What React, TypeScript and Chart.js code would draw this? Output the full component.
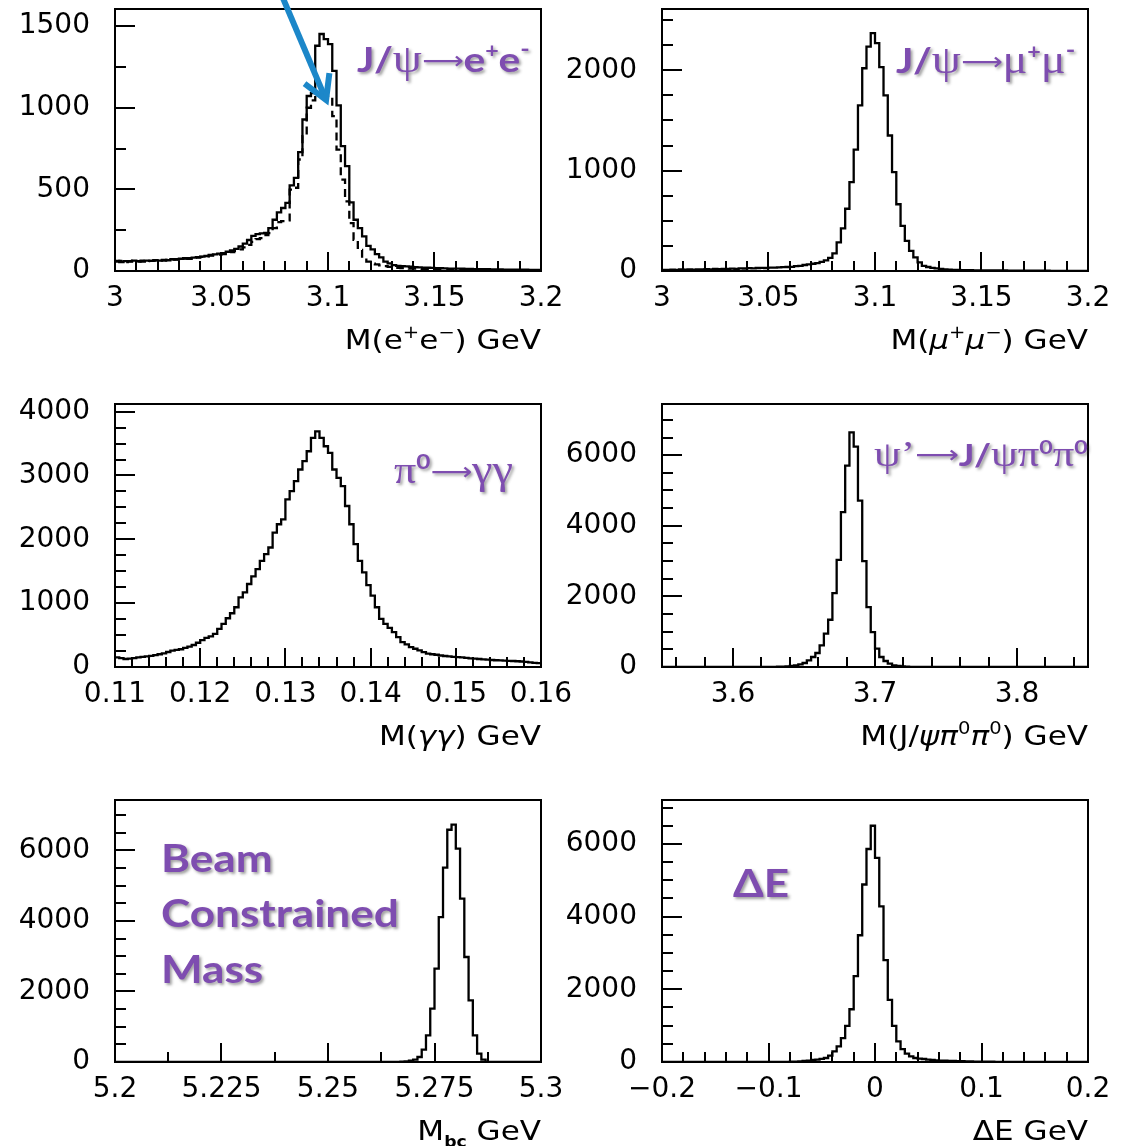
import React, { useEffect, useRef } from 'react';
import { Chart, registerables } from 'chart.js';

Chart.register(...registerables);

// ================= DATA =================
// Panel 1: J/psi -> e+e-  (solid: full, dashed: second histogram), 100 bins 3.0 - 3.2 GeV
const EE_X_MIN = 3.0;
const EE_X_MAX = 3.2;
const EE_SOLID = [
  62, 55, 60, 58, 64, 60, 57, 63, 62, 66,
  64, 68, 66, 72, 70, 75, 78, 74, 82, 85,
  88, 92, 98, 102, 106, 110, 118, 126, 136, 150,
  168, 190, 215, 226, 230, 234, 263, 314, 359, 386,
  417, 525, 570, 728, 928, 1072, 1090, 1380, 1452, 1421,
  1390, 1226, 1015, 765, 642, 420, 314, 263, 212, 154,
  133, 103, 84, 57, 47, 36, 32, 30, 28, 26,
  24, 22, 21, 20, 19, 18, 17, 16, 15, 15,
  14, 14, 13, 13, 12, 12, 11, 11, 10, 10,
  10, 9, 9, 9, 8, 8, 8, 7, 7, 6,
];
const EE_DASHED = [
  58, 62, 55, 60, 62, 58, 64, 60, 62, 64,
  66, 64, 68, 70, 72, 70, 76, 78, 80, 82,
  86, 90, 94, 98, 100, 104, 110, 116, 124, 132,
  145, 160, 178, 195, 201, 220, 232, 263, 300, 305,
  310, 498, 510, 683, 826, 1000, 1045, 1065, 1070, 1068,
  1062, 949, 744, 560, 426, 293, 191, 129, 78, 57,
  45, 40, 35, 30, 25, 22, 20, 18, 16, 15,
  14, 13, 12, 12, 11, 10, 10, 9, 9, 8,
  8, 8, 7, 7, 7, 6, 6, 6, 5, 5,
  5, 5, 4, 4, 4, 4, 3, 3, 3, 3,
];
const EE_X_TICKS = [3, 3.05, 3.1, 3.15, 3.2];
const EE_X_LABELS = ['3', '3.05', '3.1', '3.15', '3.2'];
const EE_Y_MAX = 1605;
const EE_Y_TICKS = [0, 500, 1000, 1500];
const EE_Y_LABELS = ['0', '500', '1000', '1500'];

// Panel 2: J/psi -> mu+mu-, 100 bins 3.0 - 3.2 GeV
const MM_X_MIN = 3.0;
const MM_X_MAX = 3.2;
const MM_COUNTS = [
  12, 10, 14, 12, 15, 13, 16, 14, 17, 15,
  18, 16, 20, 18, 22, 20, 24, 22, 26, 25,
  28, 26, 30, 32, 30, 34, 33, 36, 38, 40,
  42, 48, 52, 60, 66, 72, 78, 90, 105, 130,
  175, 285, 425, 620, 885, 1210, 1650, 2020, 2235, 2370,
  2270, 2030, 1750, 1350, 985, 665, 450, 300, 200, 135,
  85, 52, 40, 32, 26, 20, 16, 13, 11, 10,
  9, 8, 8, 7, 7, 6, 6, 5, 5, 5,
  5, 4, 4, 4, 4, 3, 3, 3, 3, 3,
  3, 2, 2, 2, 2, 2, 2, 2, 1, 1,
];
const MM_X_TICKS = [3, 3.05, 3.1, 3.15, 3.2];
const MM_X_LABELS = ['3', '3.05', '3.1', '3.15', '3.2'];
const MM_Y_MAX = 2610;
const MM_Y_TICKS = [0, 1000, 2000];
const MM_Y_LABELS = ['0', '1000', '2000'];

// Panel 3: pi0 -> gamma gamma, 100 bins 0.11 - 0.16 GeV
const PI0_X_MIN = 0.11;
const PI0_X_MAX = 0.16;
const PI0_COUNTS = [
  150, 138, 125, 130, 140, 152, 160, 168, 175, 185,
  200, 212, 235, 258, 268, 278, 300, 320, 345, 380,
  420, 455, 480, 520, 598, 676, 764, 842, 936, 1092,
  1170, 1300, 1420, 1534, 1664, 1768, 1872, 2106, 2236, 2314,
  2626, 2756, 2912, 3094, 3224, 3380, 3588, 3692, 3588, 3458,
  3354, 3094, 2964, 2834, 2522, 2236, 1924, 1664, 1482, 1284,
  1118, 936, 754, 676, 614, 546, 468, 390, 354, 312,
  286, 260, 234, 208, 200, 192, 180, 172, 165, 160,
  156, 150, 142, 136, 130, 125, 120, 114, 110, 106,
  104, 100, 96, 94, 90, 86, 80, 72, 66, 62,
];
const PI0_X_TICKS = [0.11, 0.12, 0.13, 0.14, 0.15, 0.16];
const PI0_X_LABELS = ['0.11', '0.12', '0.13', '0.14', '0.15', '0.16'];
const PI0_Y_MAX = 4120;
const PI0_Y_TICKS = [0, 1000, 2000, 3000, 4000];
const PI0_Y_LABELS = ['0', '1000', '2000', '3000', '4000'];

// Panel 4: psi' -> J/psi pi0 pi0, 100 bins 3.55 - 3.85 GeV
const PSI_X_MIN = 3.55;
const PSI_X_MAX = 3.85;
const PSI_COUNTS = [
  0, 0, 0, 0, 0, 0, 0, 0, 0, 0,
  0, 0, 0, 0, 0, 1, 1, 1, 1, 2,
  2, 2, 3, 3, 4, 5, 6, 8, 10, 20,
  30, 45, 75, 113, 189, 283, 396, 613, 943, 1339,
  2094, 3036, 4385, 5705, 6648, 6243, 4715, 2999, 1697, 990,
  519, 283, 170, 94, 47, 30, 19, 10, 6, 4,
  3, 2, 2, 1, 1, 1, 0, 0, 0, 0,
  0, 0, 0, 0, 0, 0, 0, 0, 0, 0,
  0, 0, 0, 0, 0, 0, 0, 0, 0, 0,
  0, 0, 0, 0, 0, 0, 0, 0, 0, 0,
];
const PSI_X_TICKS = [3.6, 3.7, 3.8];
const PSI_X_LABELS = ['3.6', '3.7', '3.8'];
const PSI_Y_MAX = 7450;
const PSI_Y_TICKS = [0, 2000, 4000, 6000];
const PSI_Y_LABELS = ['0', '2000', '4000', '6000'];

// Panel 5: beam constrained mass, 100 bins 5.2 - 5.3 GeV
const MBC_X_MIN = 5.2;
const MBC_X_MAX = 5.3;
const MBC_COUNTS = [
  0, 0, 0, 0, 0, 0, 0, 0, 0, 0,
  0, 0, 0, 0, 0, 0, 0, 0, 0, 0,
  0, 0, 0, 0, 0, 0, 0, 0, 0, 0,
  0, 0, 0, 0, 0, 0, 0, 0, 0, 0,
  0, 0, 0, 0, 0, 0, 0, 0, 0, 0,
  0, 0, 0, 0, 0, 0, 0, 0, 0, 0,
  0, 0, 0, 0, 0, 1, 3, 8, 20, 35,
  66, 142, 350, 756, 1512, 2646, 4111, 5510, 6587, 6729,
  6049, 4631, 2977, 1748, 756, 236, 66, 0, 0, 0,
  0, 0, 0, 0, 0, 0, 0, 0, 0, 0,
];
const MBC_X_TICKS = [5.2, 5.225, 5.25, 5.275, 5.3];
const MBC_X_LABELS = ['5.2', '5.225', '5.25', '5.275', '5.3'];
const MBC_Y_MAX = 7430;
const MBC_Y_TICKS = [0, 2000, 4000, 6000];
const MBC_Y_LABELS = ['0', '2000', '4000', '6000'];

// Panel 6: Delta E, 100 bins -0.2 - 0.2 GeV
const DE_X_MIN = -0.2;
const DE_X_MAX = 0.2;
const DE_COUNTS = [
  0, 0, 0, 0, 0, 0, 0, 0, 0, 0,
  0, 0, 0, 0, 0, 0, 0, 0, 0, 0,
  0, 0, 0, 0, 0, 1, 1, 2, 3, 5,
  8, 12, 18, 28, 40, 55, 64, 85, 110, 173,
  292, 429, 657, 995, 1452, 2365, 3488, 4885, 5862, 6501,
  5615, 4282, 2803, 1707, 995, 566, 356, 228, 155, 110,
  95, 82, 68, 55, 46, 40, 35, 30, 27, 24,
  20, 18, 15, 12, 10, 9, 8, 7, 6, 5,
  5, 4, 4, 3, 3, 3, 2, 2, 2, 2,
  1, 1, 1, 1, 1, 1, 0, 0, 0, 0,
];
const DE_X_TICKS = [-0.2, -0.1, 0, 0.1, 0.2];
const DE_X_LABELS = ['\u22120.2', '\u22120.1', '0', '0.1', '0.2'];
const DE_Y_MAX = 7210;
const DE_Y_TICKS = [0, 2000, 4000, 6000];
const DE_Y_LABELS = ['0', '2000', '4000', '6000'];

// ================= STYLE / LAYOUT =================
const PAD_T = 48;
const PAD_R = 58;
const AX_H = 100;
const MAJOR_LEN = 19;
const MINOR_LEN = 10;
const TITLE_DY = 78;
const TITLE_SX = 1.15;
const NOTE_SX = 1.16;
const PURPLE = '#7E4DB0';
const HIST_WIDTH = 2.3;
const TICK_FONT = { family: 'DejaVu Sans', size: 28, weight: 'normal' as const };

const N = (s: number) => `${s}px "DejaVu Sans", sans-serif`;
const NI = (s: number) => `italic ${s}px "DejaVu Sans", sans-serif`;
const NB = (s: number) => `bold ${s}px "DejaVu Sans", sans-serif`;
const BOLD = (s: number) => `bold ${s}px Lato, "Open Sans", sans-serif`;
const SERIF = (s: number) => `${s}px "Liberation Serif", "DejaVu Serif", serif`;
const ARW = (s: number) => `${s}px "DejaVu Sans", sans-serif`;

type Seg = { t: string; font: string; rise?: number };
type Note = { dx: number; dy: number; segs: Seg[]; sx?: number };

interface PanelSpec {
  id: string;
  plot: { left: number; top: number; width: number; height: number };
  axisW: number;
  xMin: number;
  xMax: number;
  xTicks: number[];
  xLabels: string[];
  xMinor: number;
  yMax: number;
  yTicks: number[];
  yLabels: string[];
  yMinor: number;
  series: { counts: number[]; dash?: number[] }[];
  title: Seg[];
  notes: Note[];
  arrow?: { from: [number, number]; to: [number, number] };
}

const TS = 27; // title font size
const SS = 17; // superscript size

const PANELS: PanelSpec[] = [
  {
    id: 'ee',
    plot: { left: 115, top: 9, width: 426, height: 262 },
    axisW: 115,
    xMin: EE_X_MIN, xMax: EE_X_MAX, xTicks: EE_X_TICKS, xLabels: EE_X_LABELS, xMinor: 0.01,
    yMax: EE_Y_MAX, yTicks: EE_Y_TICKS, yLabels: EE_Y_LABELS, yMinor: 250,
    series: [{ counts: EE_SOLID }, { counts: EE_DASHED, dash: [8, 5] }],
    title: [
      { t: 'M(', font: N(TS) }, { t: 'e', font: N(TS) }, { t: '+', font: N(SS), rise: 11 },
      { t: 'e', font: N(TS) }, { t: '\u2212', font: N(SS), rise: 11 }, { t: ') GeV', font: N(TS) },
    ],
    notes: [{
      dx: 242, dy: 63, segs: [
        { t: 'J/', font: BOLD(35) }, { t: '\u03C8', font: SERIF(40) },
        { t: '\u27F6', font: ARW(25), rise: 3 },
        { t: 'e', font: BOLD(35) }, { t: '+', font: BOLD(20), rise: 14 },
        { t: 'e', font: BOLD(35) }, { t: '-', font: BOLD(22), rise: 15 },
      ],
    }],
    arrow: { from: [3.0784, 1685], to: [3.0991, 1048] },
  },
  {
    id: 'mm',
    plot: { left: 662, top: 9, width: 426, height: 262 },
    axisW: 120,
    xMin: MM_X_MIN, xMax: MM_X_MAX, xTicks: MM_X_TICKS, xLabels: MM_X_LABELS, xMinor: 0.01,
    yMax: MM_Y_MAX, yTicks: MM_Y_TICKS, yLabels: MM_Y_LABELS, yMinor: 250,
    series: [{ counts: MM_COUNTS }],
    title: [
      { t: 'M(', font: N(TS) }, { t: '\u03BC', font: NI(TS) }, { t: '+', font: N(SS), rise: 11 },
      { t: '\u03BC', font: NI(TS) }, { t: '\u2212', font: N(SS), rise: 11 }, { t: ') GeV', font: N(TS) },
    ],
    notes: [{
      dx: 234, dy: 64, segs: [
        { t: 'J/', font: BOLD(35) }, { t: '\u03C8', font: SERIF(40) },
        { t: '\u27F6', font: ARW(25), rise: 3 },
        { t: '\u03BC', font: SERIF(40) }, { t: '+', font: BOLD(20), rise: 14 },
        { t: '\u03BC', font: SERIF(40) }, { t: '-', font: BOLD(22), rise: 15 },
      ],
    }],
  },
  {
    id: 'pi0',
    plot: { left: 115, top: 404, width: 426, height: 263 },
    axisW: 115,
    xMin: PI0_X_MIN, xMax: PI0_X_MAX, xTicks: PI0_X_TICKS, xLabels: PI0_X_LABELS, xMinor: 0.002,
    yMax: PI0_Y_MAX, yTicks: PI0_Y_TICKS, yLabels: PI0_Y_LABELS, yMinor: 250,
    series: [{ counts: PI0_COUNTS }],
    title: [
      { t: 'M(', font: N(TS) }, { t: '\u03B3\u03B3', font: NI(TS) }, { t: ') GeV', font: N(TS) },
    ],
    notes: [{
      dx: 279, dy: 79, segs: [
        { t: '\u03C0', font: SERIF(38) }, { t: '0', font: BOLD(21), rise: 14 },
        { t: '\u27F6', font: ARW(25), rise: 3 }, { t: '\u03B3\u03B3', font: SERIF(40) },
      ],
    }],
  },
  {
    id: 'psi',
    plot: { left: 662, top: 404, width: 426, height: 263 },
    axisW: 120,
    xMin: PSI_X_MIN, xMax: PSI_X_MAX, xTicks: PSI_X_TICKS, xLabels: PSI_X_LABELS, xMinor: 0.02,
    yMax: PSI_Y_MAX, yTicks: PSI_Y_TICKS, yLabels: PSI_Y_LABELS, yMinor: 500,
    series: [{ counts: PSI_COUNTS }],
    title: [
      { t: 'M(J/', font: N(TS) }, { t: '\u03C8\u03C0', font: NI(TS) }, { t: '0', font: N(SS), rise: 11 },
      { t: '\u03C0', font: NI(TS) }, { t: '0', font: N(SS), rise: 11 }, { t: ') GeV', font: N(TS) },
    ],
    notes: [{
      dx: 212, dy: 62, sx: 1.22, segs: [
        { t: '\u03C8\u2019', font: SERIF(35) }, { t: '\u27F6', font: ARW(25), rise: 3 },
        { t: 'J/', font: BOLD(30) }, { t: '\u03C8\u03C0', font: SERIF(35) },
        { t: '0', font: BOLD(19), rise: 12 }, { t: '\u03C0', font: SERIF(35) },
        { t: '0', font: BOLD(19), rise: 12 },
      ],
    }],
  },
  {
    id: 'mbc',
    plot: { left: 115, top: 800, width: 426, height: 262 },
    axisW: 115,
    xMin: MBC_X_MIN, xMax: MBC_X_MAX, xTicks: MBC_X_TICKS, xLabels: MBC_X_LABELS, xMinor: 0.0125,
    yMax: MBC_Y_MAX, yTicks: MBC_Y_TICKS, yLabels: MBC_Y_LABELS, yMinor: 500,
    series: [{ counts: MBC_COUNTS }],
    title: [
      { t: 'M', font: N(TS) }, { t: 'bc', font: NB(15), rise: -7 }, { t: ' GeV', font: N(TS) },
    ],
    notes: [
      { dx: 46, dy: 72, segs: [{ t: 'Beam', font: BOLD(38) }] },
      { dx: 46, dy: 127, segs: [{ t: 'Constrained', font: BOLD(38) }] },
      { dx: 46, dy: 183, segs: [{ t: 'Mass', font: BOLD(38) }] },
    ],
  },
  {
    id: 'de',
    plot: { left: 662, top: 800, width: 426, height: 262 },
    axisW: 120,
    xMin: DE_X_MIN, xMax: DE_X_MAX, xTicks: DE_X_TICKS, xLabels: DE_X_LABELS, xMinor: 0.02,
    yMax: DE_Y_MAX, yTicks: DE_Y_TICKS, yLabels: DE_Y_LABELS, yMinor: 500,
    series: [{ counts: DE_COUNTS }],
    title: [{ t: '\u0394E GeV', font: N(TS) }],
    notes: [{ dx: 71, dy: 97, segs: [{ t: '\u0394E', font: BOLD(38) }] }],
  },
];

// ================= HELPERS =================
function stepPoints(counts: number[], lo: number, hi: number) {
  const w = (hi - lo) / counts.length;
  const pts = counts.map((c, i) => ({ x: lo + i * w, y: c }));
  pts.push({ x: hi, y: counts[counts.length - 1] });
  return pts;
}

function minorValues(lo: number, hi: number, step: number, majors: number[]) {
  const out: number[] = [];
  const eps = step * 1e-3;
  const k0 = Math.ceil(lo / step - 1e-6);
  const k1 = Math.floor(hi / step + 1e-6);
  for (let k = k0; k <= k1; k++) {
    const v = k * step;
    if (Math.abs(v - lo) < eps || Math.abs(v - hi) < eps) continue;
    if (majors.some((m) => Math.abs(m - v) < eps)) continue;
    out.push(v);
  }
  return out;
}

function segsWidth(ctx: CanvasRenderingContext2D, segs: Seg[]) {
  let w = 0;
  for (const s of segs) {
    ctx.font = s.font;
    w += ctx.measureText(s.t).width;
  }
  return w;
}

function drawSegs(ctx: CanvasRenderingContext2D, segs: Seg[], x: number, y: number, sx: number, align: 'left' | 'right') {
  const w = segsWidth(ctx, segs) * sx;
  const x0 = align === 'right' ? x - w : x;
  ctx.save();
  ctx.translate(x0, y);
  ctx.scale(sx, 1);
  ctx.textAlign = 'left';
  ctx.textBaseline = 'alphabetic';
  let ox = 0;
  for (const s of segs) {
    ctx.font = s.font;
    ctx.fillText(s.t, ox, -(s.rise || 0));
    ox += ctx.measureText(s.t).width;
  }
  ctx.restore();
}

function decorPlugin(spec: PanelSpec) {
  return {
    id: 'decor_' + spec.id,
    afterDraw(chart: any) {
      const ctx: CanvasRenderingContext2D = chart.ctx;
      const { left, right, top, bottom } = chart.chartArea;
      const xs = chart.scales.x;
      const ys = chart.scales.y;
      const xEps = (spec.xMax - spec.xMin) * 1e-4;
      ctx.save();
      ctx.strokeStyle = '#000';
      ctx.lineWidth = 2;
      ctx.lineCap = 'butt';
      ctx.beginPath();
      for (const v of spec.xTicks) {
        if (v <= spec.xMin + xEps || v >= spec.xMax - xEps) continue;
        const p = Math.round(xs.getPixelForValue(v));
        ctx.moveTo(p, bottom);
        ctx.lineTo(p, bottom - MAJOR_LEN);
      }
      for (const v of minorValues(spec.xMin, spec.xMax, spec.xMinor, spec.xTicks)) {
        const p = Math.round(xs.getPixelForValue(v));
        ctx.moveTo(p, bottom);
        ctx.lineTo(p, bottom - MINOR_LEN);
      }
      for (const v of spec.yTicks) {
        if (v <= 0 || v >= spec.yMax) continue;
        const p = Math.round(ys.getPixelForValue(v));
        ctx.moveTo(left, p);
        ctx.lineTo(left + MAJOR_LEN + 1, p);
      }
      for (const v of minorValues(0, spec.yMax, spec.yMinor, spec.yTicks)) {
        const p = Math.round(ys.getPixelForValue(v));
        ctx.moveTo(left, p);
        ctx.lineTo(left + MINOR_LEN + 1, p);
      }
      ctx.stroke();
      ctx.strokeRect(left, top, right - left, bottom - top);

      // axis title
      ctx.fillStyle = '#000';
      drawSegs(ctx, spec.title, right, bottom + TITLE_DY, TITLE_SX, 'right');

      // purple annotations
      ctx.save();
      ctx.fillStyle = PURPLE;
      ctx.shadowColor = 'rgba(40,40,40,0.45)';
      ctx.shadowOffsetX = 2;
      ctx.shadowOffsetY = 2;
      ctx.shadowBlur = 3;
      for (const n of spec.notes) {
        drawSegs(ctx, n.segs, left + n.dx, top + n.dy, n.sx || NOTE_SX, 'left');
      }
      ctx.restore();

      // blue arrow
      if (spec.arrow) {
        const x0 = xs.getPixelForValue(spec.arrow.from[0]);
        const y0 = ys.getPixelForValue(spec.arrow.from[1]);
        const x1 = xs.getPixelForValue(spec.arrow.to[0]);
        const y1 = ys.getPixelForValue(spec.arrow.to[1]);
        const ang = Math.atan2(y1 - y0, x1 - x0);
        const head = 27;
        const spread = Math.PI / 6;
        ctx.strokeStyle = '#1C87C9';
        ctx.lineWidth = 6;
        ctx.lineJoin = 'miter';
        ctx.beginPath();
        ctx.moveTo(x0, y0);
        ctx.lineTo(x1 - Math.cos(ang) * 2, y1 - Math.sin(ang) * 2);
        ctx.stroke();
        ctx.beginPath();
        ctx.moveTo(x1 - head * Math.cos(ang - spread), y1 - head * Math.sin(ang - spread));
        ctx.lineTo(x1, y1);
        ctx.lineTo(x1 - head * Math.cos(ang + spread), y1 - head * Math.sin(ang + spread));
        ctx.stroke();
      }
      ctx.restore();
    },
  };
}

function makeConfig(spec: PanelSpec): any {
  return {
    type: 'line',
    data: {
      datasets: spec.series.map((s) => ({
        data: stepPoints(s.counts, spec.xMin, spec.xMax),
        stepped: 'before',
        borderColor: '#000',
        borderWidth: HIST_WIDTH,
        borderDash: s.dash || [],
        borderJoinStyle: 'miter',
        borderCapStyle: 'butt',
        pointRadius: 0,
        pointHoverRadius: 0,
        fill: false,
        tension: 0,
      })),
    },
    options: {
      responsive: false,
      animation: false,
      devicePixelRatio: 1,
      events: [],
      layout: { padding: { left: 0, top: PAD_T, right: PAD_R, bottom: 0 } },
      plugins: { legend: { display: false }, tooltip: { enabled: false } },
      scales: {
        x: {
          type: 'linear',
          min: spec.xMin,
          max: spec.xMax,
          bounds: 'data',
          grid: { display: false, drawTicks: false },
          border: { display: false },
          ticks: {
            font: TICK_FONT,
            color: '#000',
            padding: 11,
            autoSkip: false,
            maxRotation: 0,
            minRotation: 0,
            callback: (_v: number, i: number) => spec.xLabels[i],
          },
          afterBuildTicks: (s: any) => {
            s.ticks = spec.xTicks.map((v) => ({ value: v }));
          },
          afterFit: (s: any) => {
            s.height = AX_H;
          },
        },
        y: {
          type: 'linear',
          min: 0,
          max: spec.yMax,
          bounds: 'data',
          grid: { display: false, drawTicks: false },
          border: { display: false },
          ticks: {
            font: TICK_FONT,
            color: '#000',
            padding: 25,
            autoSkip: false,
            callback: (_v: number, i: number) => spec.yLabels[i],
          },
          afterBuildTicks: (s: any) => {
            s.ticks = spec.yTicks.map((v) => ({ value: v }));
          },
          afterFit: (s: any) => {
            s.width = spec.axisW;
          },
        },
      },
    },
    plugins: [decorPlugin(spec)],
  };
}

function Panel({ spec }: { spec: PanelSpec }) {
  const ref = useRef<HTMLCanvasElement>(null);
  useEffect(() => {
    if (!ref.current) return;
    const chart = new Chart(ref.current, makeConfig(spec));
    return () => chart.destroy();
  }, [spec]);
  const left = spec.plot.left - spec.axisW;
  const top = spec.plot.top - PAD_T;
  const w = spec.axisW + spec.plot.width + PAD_R;
  const h = PAD_T + spec.plot.height + AX_H;
  return (
    <canvas
      ref={ref}
      width={w}
      height={h}
      style={{ position: 'absolute', left, top, width: w, height: h }}
    />
  );
}

export default function App() {
  return (
    <div
      style={{
        position: 'absolute',
        left: 0,
        top: 0,
        width: 1129,
        height: 1146,
        overflow: 'hidden',
        background: '#fff',
      }}
    >
      {PANELS.map((p) => (
        <Panel key={p.id} spec={p} />
      ))}
    </div>
  );
}
